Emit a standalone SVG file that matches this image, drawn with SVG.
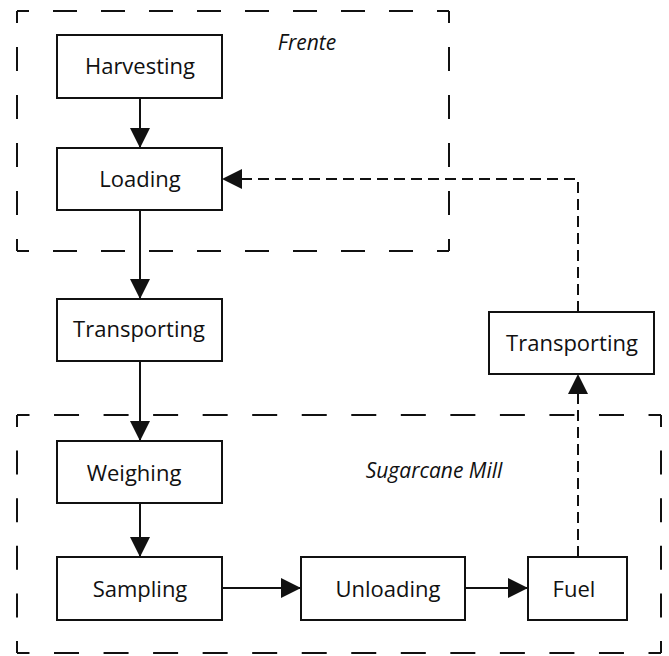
<svg xmlns="http://www.w3.org/2000/svg" width="669" height="656" viewBox="0 0 669 656">
<style>
.box{fill:#fff;stroke:#111;stroke-width:2}
.g1{fill:none;stroke:#111;stroke-width:2;stroke-dasharray:24 24;stroke-dashoffset:12}
.gh{fill:none;stroke:#111;stroke-width:2;stroke-dasharray:25 24.54;stroke-dashoffset:12.5}
.gv{fill:none;stroke:#111;stroke-width:2;stroke-dasharray:24 23.6;stroke-dashoffset:12}
.lbl{font-family:"Open Sans","Noto Sans",sans-serif;font-size:22px;fill:#111;text-anchor:middle}
.ttl{font-family:"Open Sans","Noto Sans",sans-serif;font-size:21px;font-style:italic;fill:#111;text-anchor:middle}
.ln{fill:none;stroke:#111;stroke-width:2}
.dl{fill:none;stroke:#111;stroke-width:2;stroke-dasharray:11 6}
</style>
<defs>
<marker id="ah" markerUnits="userSpaceOnUse" markerWidth="20" markerHeight="20" viewBox="0 0 20 20" refX="20" refY="10" orient="auto">
<path d="M0,0 L20,10 L0,20 z" fill="#111"/>
</marker>
</defs>
<g id="frente">
<line class="g1" x1="17" y1="11" x2="449" y2="11"/>
<line class="g1" x1="449" y1="11" x2="449" y2="251"/>
<line class="g1" x1="449" y1="251" x2="17" y2="251"/>
<line class="g1" x1="17" y1="251" x2="17" y2="11"/>
<text class="ttl" x="307" y="50">Frente</text>
</g>
<g id="sugarcane-mill">
<line class="gh" x1="17" y1="415" x2="661" y2="415"/>
<line class="gv" x1="661" y1="415" x2="661" y2="653"/>
<line class="gh" x1="661" y1="653" x2="17" y2="653"/>
<line class="gv" x1="17" y1="653" x2="17" y2="415"/>
<text class="ttl" x="434" y="478">Sugarcane Mill</text>
</g>
<g id="connectors">
<line class="ln" x1="140" y1="98" x2="140" y2="148" marker-end="url(#ah)"/>
<line class="ln" x1="140" y1="210" x2="140" y2="299" marker-end="url(#ah)"/>
<line class="ln" x1="140" y1="361" x2="140" y2="441" marker-end="url(#ah)"/>
<line class="ln" x1="140" y1="503" x2="140" y2="557" marker-end="url(#ah)"/>
<line class="ln" x1="222" y1="588" x2="301" y2="588" marker-end="url(#ah)"/>
<line class="ln" x1="465" y1="588" x2="528" y2="588" marker-end="url(#ah)"/>
<line class="dl" x1="578" y1="557" x2="578" y2="374" marker-end="url(#ah)"/>
<path class="dl" d="M578,312 V179 H222" marker-end="url(#ah)"/>
</g>
<g id="harvesting"><rect class="box" x="57" y="35" width="165" height="63"/><text class="lbl" x="140" y="74">Harvesting</text></g>
<g id="loading"><rect class="box" x="57" y="148" width="165" height="62"/><text class="lbl" x="140" y="187">Loading</text></g>
<g id="transporting1"><rect class="box" x="57" y="299" width="165" height="62"/><text class="lbl" x="139" y="337">Transporting</text></g>
<g id="transporting2"><rect class="box" x="489" y="312" width="165" height="62"/><text class="lbl" x="572" y="351">Transporting</text></g>
<g id="weighing"><rect class="box" x="57" y="441" width="165" height="62"/><text class="lbl" x="134" y="481">Weighing</text></g>
<g id="sampling"><rect class="box" x="57" y="557" width="165" height="63"/><text class="lbl" x="140" y="597">Sampling</text></g>
<g id="unloading"><rect class="box" x="301" y="557" width="164" height="63"/><text class="lbl" x="388" y="597">Unloading</text></g>
<g id="fuel"><rect class="box" x="528" y="557" width="99" height="63"/><text class="lbl" x="574" y="597">Fuel</text></g>
</svg>
